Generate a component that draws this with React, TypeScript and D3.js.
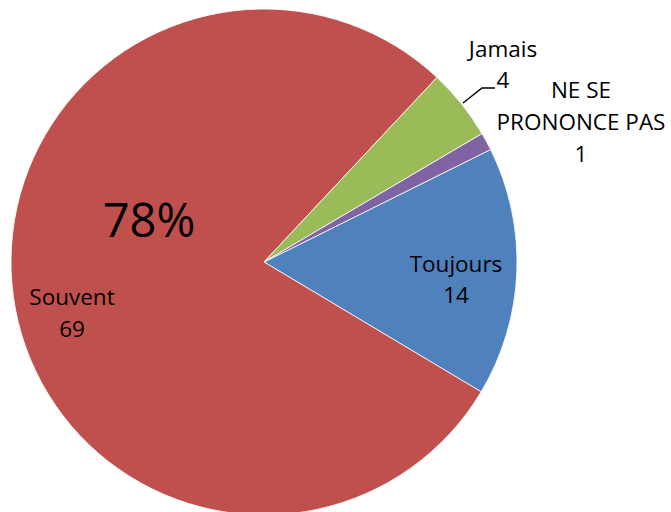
import * as d3 from "d3";

const categories = ["Toujours", "Souvent", "Jamais", "NE SE PRONONCE PAS"];
const values = [14, 69, 4, 1];
const colors = ["#4F81BD", "#C0504D", "#9BBB59", "#8064A2"];

const W = 671;
const H = 512;
const cx = 264;
const cy = 262;
const r = 253;
const font = "'Open Sans', 'Liberation Sans', sans-serif";

export default function App() {
  const startAngle = (63.6 * Math.PI) / 180;
  const pie = d3.pie<number>().sort(null).startAngle(startAngle).endAngle(startAngle + 2 * Math.PI);
  const arcs = pie(values);
  const arc = d3.arc<d3.PieArcDatum<number>>().innerRadius(0).outerRadius(r);
  const total = d3.sum(values);
  const pct = d3.format(".0%")(values[1] / total);

  return (
    <svg width={W} height={H} style={{ position: "absolute", left: 0, top: 0 }}>
      <g transform={`translate(${cx},${cy})`}>
        {arcs.map((a, i) => (
          <path key={categories[i]} d={arc(a) ?? ""} fill={colors[i]} stroke="#fff" strokeWidth={0.8} />
        ))}
      </g>
      <g fontFamily={font} fontSize={22.5} fill="#000" textAnchor="middle">
        <text x={149} y={237} fontSize={47}>{pct}</text>
        <text x={72} y={305}>{categories[1]}</text>
        <text x={72} y={337}>{values[1]}</text>
        <text x={456} y={272}>{categories[0]}</text>
        <text x={456} y={303}>{values[0]}</text>
        <text x={503} y={57}>{categories[2]}</text>
        <text x={503} y={88}>{values[2]}</text>
        <text x={581} y={98}>NE SE</text>
        <text x={581} y={130}>PRONONCE PAS</text>
        <text x={581} y={162}>{values[3]}</text>
      </g>
      <polyline points="463,103 482,88 495,88" fill="none" stroke="#000" strokeWidth={1.5} />
    </svg>
  );
}
